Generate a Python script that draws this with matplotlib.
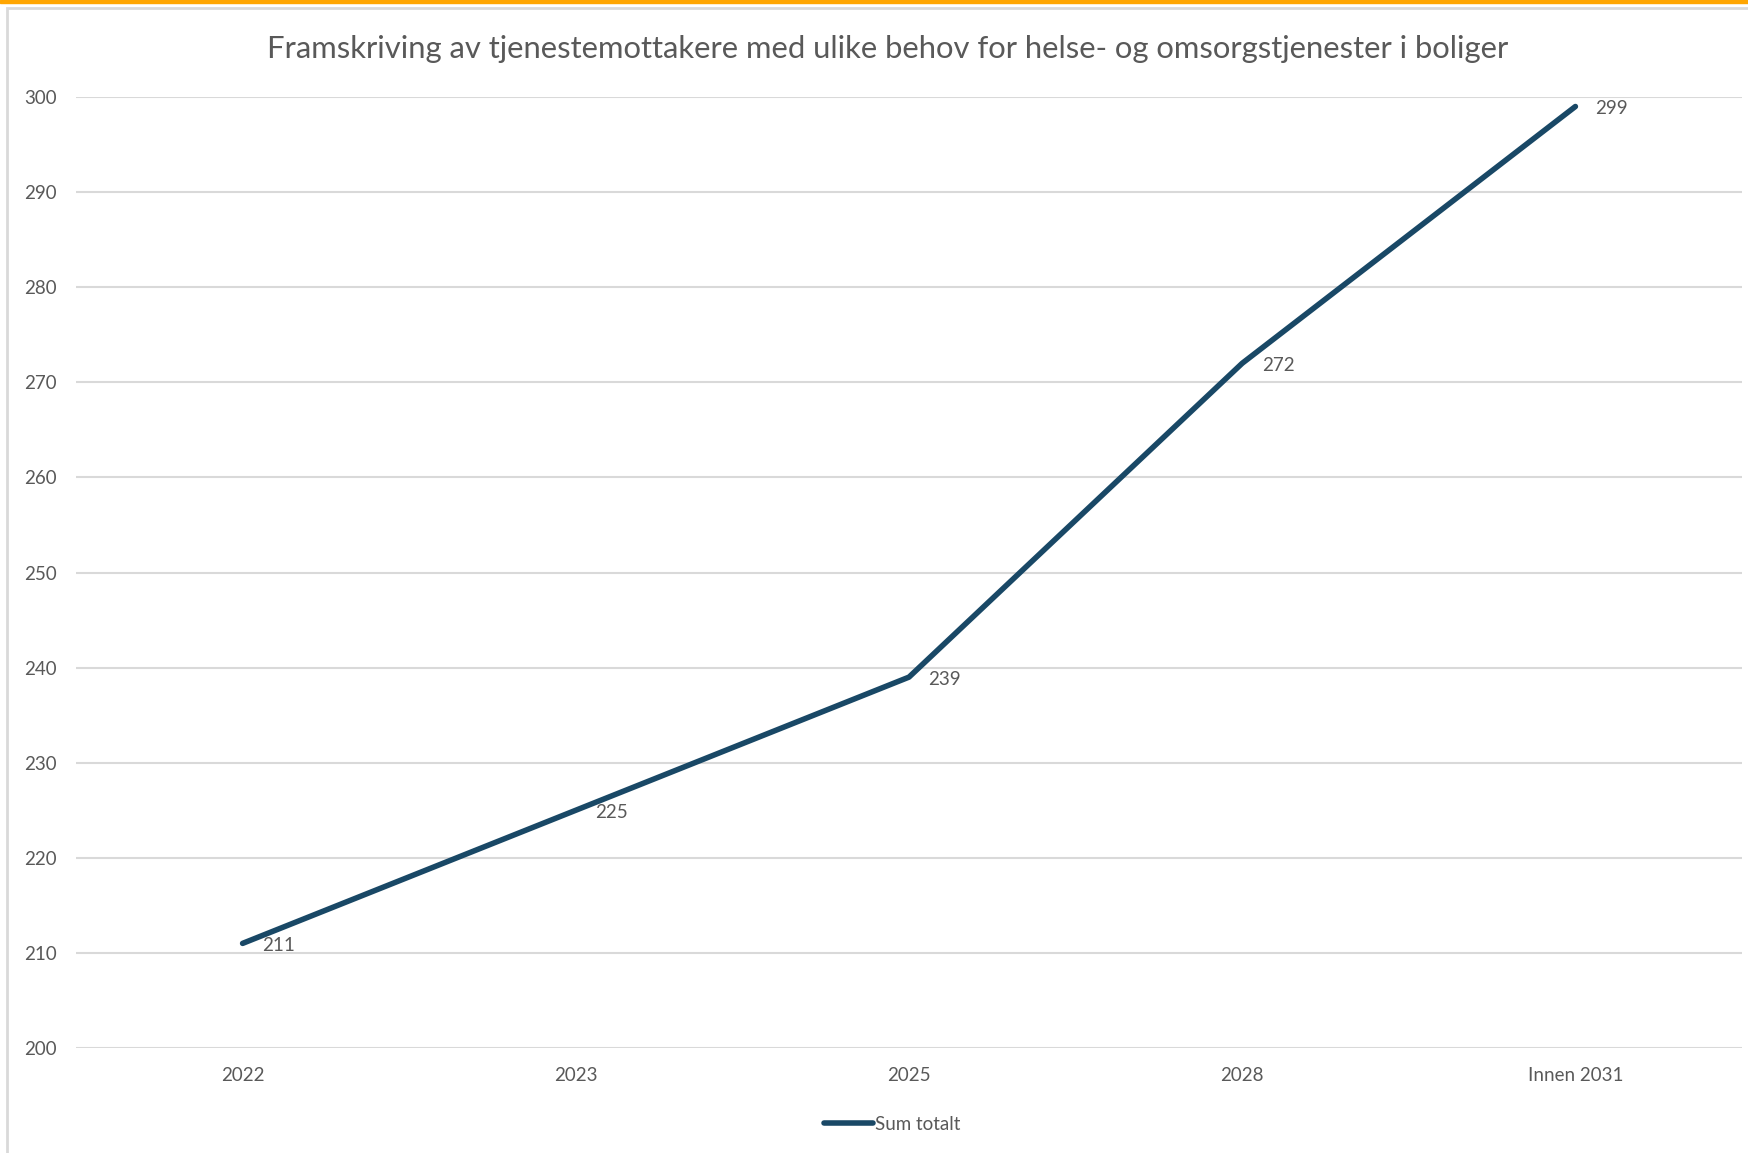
import matplotlib.pyplot as plt
from matplotlib.patches import Rectangle

# Framskriving - sum totalt
kategorier = ['2022', '2023', '2025', '2028', 'Innen 2031']
sum_totalt = [211, 225, 239, 272, 299]
y_ticks = [200, 210, 220, 230, 240, 250, 260, 270, 280, 290, 300]

plt.rcParams['font.family'] = ['Lato', 'DejaVu Sans']
grå = '#595959'
blå = '#194866'

fig = plt.figure(figsize=(17.49, 11.53), dpi=100)
W, H = 1749, 1153

# oransje stripe øverst og grå ramme rundt diagrammet
fig.patches.append(Rectangle((0, 1 - 3 / H), 1, 3 / H, transform=fig.transFigure,
                             color='#FFA500', zorder=0))
fig.patches.append(Rectangle((7 / W, -0.05), 1.1, 1 - 8 / H + 0.05, transform=fig.transFigure,
                             facecolor='none', edgecolor='#D9D9D9', linewidth=2, zorder=0))

ax = fig.add_axes([76 / W, 1 - 1048 / H, (1742 - 76) / W, (1048 - 97) / H])
ax.set_facecolor('none')

x = list(range(len(kategorier)))
ax.plot(x, sum_totalt, color=blå, linewidth=4, solid_capstyle='round',
        solid_joinstyle='round', label='Sum totalt', zorder=3)
for xi, v in zip(x, sum_totalt):
    ax.annotate(str(v), (xi, v), xytext=(14, -1.5), textcoords='offset points',
                ha='left', va='center', fontsize=13.5, color=grå)

ax.set_xlim(-0.5, len(kategorier) - 0.5)
ax.set_ylim(200, 300)
ax.set_xticks(x)
ax.set_xticklabels(kategorier)
ax.set_yticks(y_ticks)
ax.tick_params(length=0, labelsize=13.5, colors=grå)
ax.tick_params(axis='y', pad=14)
ax.tick_params(axis='x', pad=14)
ax.grid(axis='y', color='#D9D9D9', linewidth=1.5)
ax.set_axisbelow(True)
for s in ax.spines.values():
    s.set_visible(False)

fig.text(888 / W, 1 - 49 / H,
         'Framskriving av tjenestemottakere med ulike behov for helse- og omsorgstjenester i boliger',
         ha='center', va='center', fontsize=22.3, color=grå)

fig.legend(loc='center', bbox_to_anchor=(892 / W, 1 - 1124 / H), frameon=False,
           fontsize=13.5, labelcolor=grå, handlelength=2.6, handletextpad=0.1)

fig.savefig('out.png', dpi=100)
